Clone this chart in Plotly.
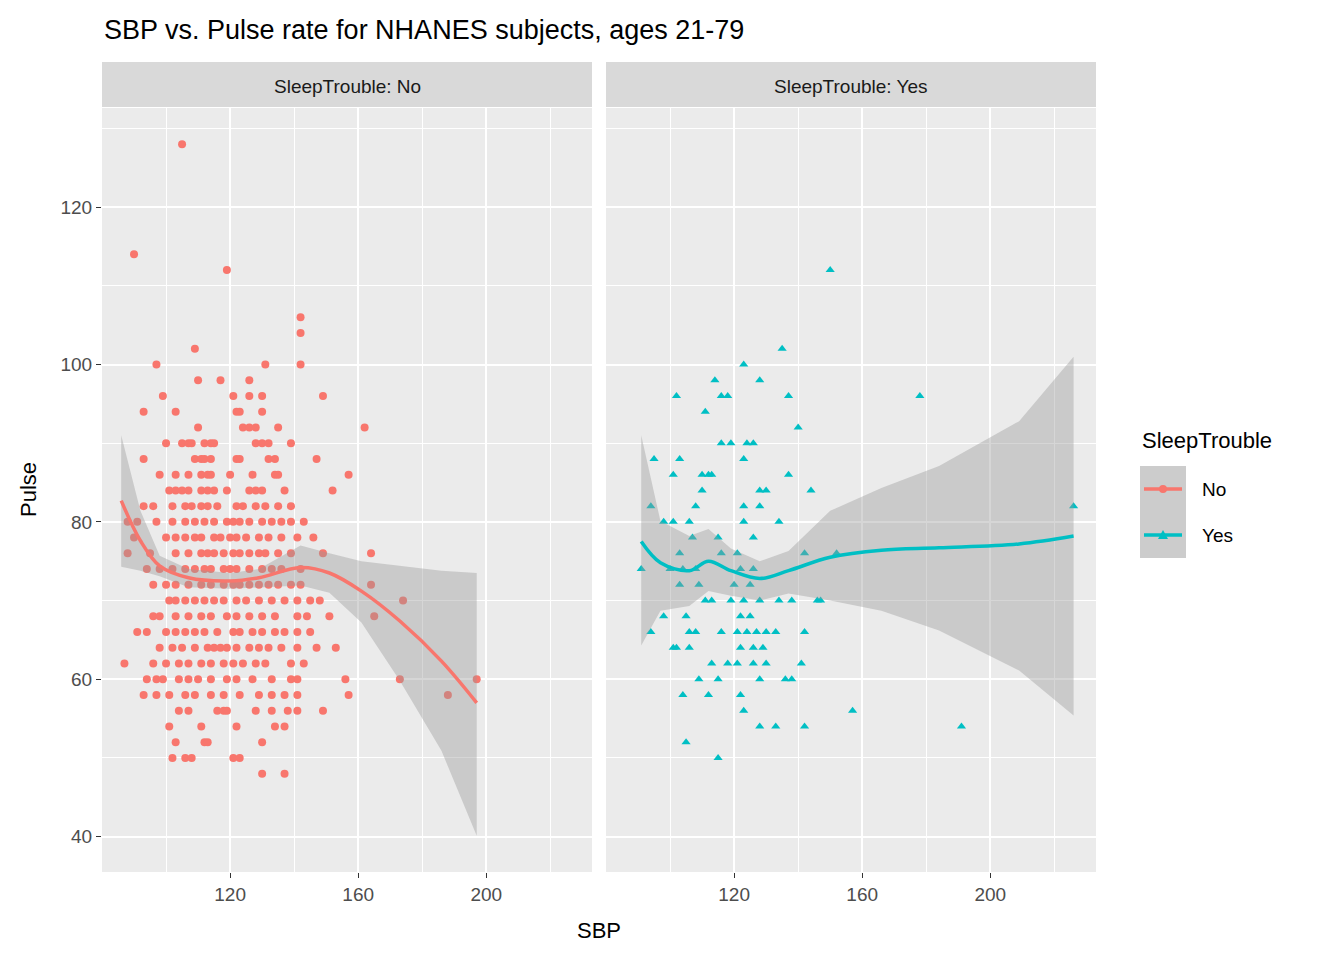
import plotly.graph_objects as go

# SleepTrouble: No -- pulse level -> SBP values
no_points = {
    128: [105], 114: [90], 112: [119], 106: [142], 104: [142], 102: [109],
    100: [97, 131, 142], 98: [110, 117, 126], 96: [99, 121, 126, 130, 149],
    94: [93, 103, 122, 123, 130], 92: [110, 124, 126, 128, 135, 162],
    90: [100, 105, 107, 108, 112, 114, 115, 128, 130, 132, 139],
    88: [93, 109, 111, 112, 114, 122, 123, 132, 134, 147],
    86: [98, 103, 107, 111, 113, 114, 120, 127, 134, 135, 157],
    84: [101, 103, 105, 107, 111, 113, 115, 119, 126, 128, 130, 137, 152],
    82: [93, 96, 102, 106, 108, 111, 113, 116, 122, 124, 128, 131, 135, 139],
    80: [88, 91, 97, 102, 106, 109, 112, 115, 119, 121, 123, 126, 130, 133, 136, 139, 143],
    78: [90, 100, 103, 106, 109, 111, 115, 117, 120, 122, 125, 129, 132, 136, 141, 146],
    76: [88, 95, 103, 107, 111, 113, 115, 118, 121, 123, 126, 129, 131, 135, 139, 149, 164],
    74: [94, 98, 102, 106, 109, 112, 114, 118, 120, 122, 126, 130, 133, 136, 142],
    72: [96, 100, 103, 107, 111, 114, 118, 121, 123, 126, 129, 132, 135, 139, 142, 164],
    70: [101, 103, 106, 109, 112, 115, 118, 122, 125, 129, 133, 137, 141, 145, 148, 174],
    68: [96, 98, 103, 107, 111, 114, 119, 122, 126, 130, 134, 141, 144, 151, 165],
    66: [91, 94, 100, 103, 106, 109, 112, 116, 121, 123, 127, 130, 134, 137, 141, 145],
    64: [98, 102, 105, 109, 113, 115, 117, 119, 122, 126, 129, 132, 136, 141, 147, 153],
    62: [87, 96, 100, 104, 107, 111, 114, 118, 121, 124, 128, 131, 139, 143],
    60: [94, 97, 99, 104, 107, 110, 114, 119, 122, 127, 133, 139, 141, 156, 173, 197],
    58: [93, 97, 101, 106, 109, 114, 118, 123, 129, 133, 137, 141, 157, 188],
    56: [104, 107, 116, 118, 119, 128, 133, 138, 141, 149],
    54: [101, 111, 122, 134, 137],
    52: [103, 112, 113, 130],
    50: [102, 106, 108, 121, 123],
    48: [130, 137],
}

# SleepTrouble: Yes
yes_points = {
    112: [150], 102: [135], 100: [123], 98: [114, 128], 96: [102, 116, 118, 137, 178],
    94: [111], 92: [140], 90: [116, 119, 124, 126], 88: [95, 103, 123],
    86: [101, 110, 112, 113, 137], 84: [110, 128, 130, 144], 82: [94, 108, 123, 128, 226],
    80: [98, 101, 106, 123, 134], 78: [107, 115, 126], 76: [103, 116, 121, 142, 152],
    74: [91, 100, 104, 108, 122, 126], 72: [103, 109, 120, 125],
    70: [111, 113, 119, 123, 128, 134, 138, 146, 147], 68: [98, 105, 122, 125],
    66: [94, 106, 108, 116, 121, 124, 127, 130, 133, 142],
    64: [101, 102, 106, 122, 126, 129], 62: [113, 118, 121, 126, 130, 141],
    60: [109, 115, 128, 136, 138], 58: [104, 112, 122], 56: [123, 157],
    54: [128, 133, 142, 191], 52: [105], 50: [115],
}

# loess fits
no_fit_x = [86, 92, 98, 107, 120, 129, 142, 151, 161, 173, 186, 197]
no_fit_y = [82.7, 77.6, 74.4, 72.9, 72.5, 72.9, 74.2, 73.5, 71.2, 67.4, 62.3, 57.0]
no_fit_hi = [91.0, 81.4, 75.7, 74.0, 73.5, 74.0, 77.0, 76.0, 75.0, 74.4, 73.8, 73.5]
no_fit_lo = [74.3, 73.8, 73.1, 71.7, 71.5, 71.7, 71.9, 71.0, 67.2, 59.8, 50.9, 40.1]

yes_fit_x = [91, 97, 106, 112, 119, 128, 137, 150, 166, 184, 209, 226]
yes_fit_y = [77.5, 74.8, 73.8, 75.0, 73.8, 72.8, 73.8, 75.5, 76.4, 76.7, 77.2, 78.2]
yes_fit_hi = [91.0, 80.1, 78.2, 79.1, 76.6, 75.0, 76.3, 81.4, 84.3, 87.1, 92.8, 101.0]
yes_fit_lo = [64.3, 68.7, 69.3, 71.2, 70.6, 70.0, 70.9, 70.0, 68.7, 66.2, 61.1, 55.4]

RED = "#F8766D"
CYAN = "#00BFC4"
OFF = 8  # page body margin
W, H = 1344 - 2 * OFF, 960 - 2 * OFF


def fx(p):
    return (p - OFF) / W


def fy(p):
    return 1 - (p - OFF) / H


def flatten(d):
    xs, ys = [], []
    for p, sbps in d.items():
        for s in sbps:
            xs.append(s)
            ys.append(p)
    return xs, ys


fig = go.Figure()
panels = [
    ("x", "y", no_points, RED, "circle", no_fit_x, no_fit_y, no_fit_hi, no_fit_lo),
    ("x2", "y2", yes_points, CYAN, "triangle-up", yes_fit_x, yes_fit_y, yes_fit_hi, yes_fit_lo),
]
for xa, ya, pts, col, sym, sx, sy, sh, sl in panels:
    px, py = flatten(pts)
    fig.add_trace(go.Scatter(x=px, y=py, mode="markers", xaxis=xa, yaxis=ya,
                             marker=dict(color=col, size=8, symbol=sym), showlegend=False))
    fig.add_trace(go.Scatter(x=sx + sx[::-1], y=sh + sl[::-1], fill="toself", mode="lines",
                             line=dict(width=0), fillcolor="rgba(153,153,153,0.4)",
                             xaxis=xa, yaxis=ya, showlegend=False, hoverinfo="skip"))
    fig.add_trace(go.Scatter(x=sx, y=sy, mode="lines", line=dict(color=col, width=3.5, shape="spline"),
                             xaxis=xa, yaxis=ya, showlegend=False))

xcommon = dict(range=[80, 233], tickvals=[120, 160, 200], showgrid=True, gridcolor="white", gridwidth=1.6,
               minor=dict(tickvals=[100, 140, 180, 220], showgrid=True, gridcolor="white", gridwidth=0.7),
               ticks="outside", ticklen=5, tickcolor="#333333", zeroline=False,
               tickfont=dict(size=19, color="#4D4D4D"))
ycommon = dict(range=[35.5, 132.6], tickvals=[40, 60, 80, 100, 120], showgrid=True, gridcolor="white",
               gridwidth=1.6, minor=dict(tickvals=[50, 70, 90, 110, 130], showgrid=True, gridcolor="white",
                                         gridwidth=0.7),
               zeroline=False, tickfont=dict(size=19, color="#4D4D4D"), domain=[fy(872), fy(108)])

fig.update_layout(
    width=W, height=H, margin=dict(l=0, r=0, t=0, b=0),
    paper_bgcolor="white", plot_bgcolor="#EBEBEB",
    font=dict(family="Liberation Sans, Arial", color="black"),
    xaxis=dict(domain=[fx(102), fx(592)], **xcommon),
    xaxis2=dict(domain=[fx(606), fx(1096)], **xcommon),
    yaxis=dict(anchor="x", ticks="outside", ticklen=5, tickcolor="#333333", **ycommon),
    yaxis2=dict(anchor="x2", showticklabels=False, ticks="", **ycommon),
    showlegend=False,
)


def text(x, y, s, size, xanchor="center", angle=0, color="black"):
    fig.add_annotation(x=fx(x), y=fy(y), xref="paper", yref="paper", text=s, showarrow=False,
                       xanchor=xanchor, yanchor="middle", textangle=angle,
                       font=dict(size=size, color=color))


# strips
for x0, x1, label in [(102, 592, "SleepTrouble: No"), (606, 1096, "SleepTrouble: Yes")]:
    fig.add_shape(type="rect", xref="paper", yref="paper", x0=fx(x0), x1=fx(x1),
                  y0=fy(107), y1=fy(62), fillcolor="#D9D9D9", line_width=0)
    text((x0 + x1) / 2, 87, label, 19, color="#1A1A1A")

text(102, 30, "SBP vs. Pulse rate for NHANES subjects, ages 21-79", 27, xanchor="left")
text(599, 930, "SBP", 22)
text(28, 490, "Pulse", 22, angle=-90)

# legend
text(1140, 440, "SleepTrouble", 22, xanchor="left")
for i, (lab, col) in enumerate([("No", RED), ("Yes", CYAN)]):
    top = 466 + i * 46
    fig.add_shape(type="rect", xref="paper", yref="paper", x0=fx(1140), x1=fx(1186),
                  y0=fy(top + 46), y1=fy(top), fillcolor="#CCCCCC", line_width=0)
    cy = top + 23
    fig.add_shape(type="line", xref="paper", yref="paper", x0=fx(1144), x1=fx(1182),
                  y0=fy(cy), y1=fy(cy), line=dict(color=col, width=3.5))
    if i == 0:
        fig.add_shape(type="circle", xref="paper", yref="paper", x0=fx(1159), x1=fx(1167),
                      y0=fy(cy + 4), y1=fy(cy - 4), fillcolor=col, line_width=0)
    else:
        fig.add_shape(type="path", xref="paper", yref="paper", fillcolor=col, line_width=0,
                      path=f"M {fx(1158)} {fy(cy + 4)} L {fx(1168)} {fy(cy + 4)} "
                           f"L {fx(1163)} {fy(cy - 5)} Z")
    text(1200, cy, lab, 19, xanchor="left")

fig.write_html("out.html")
